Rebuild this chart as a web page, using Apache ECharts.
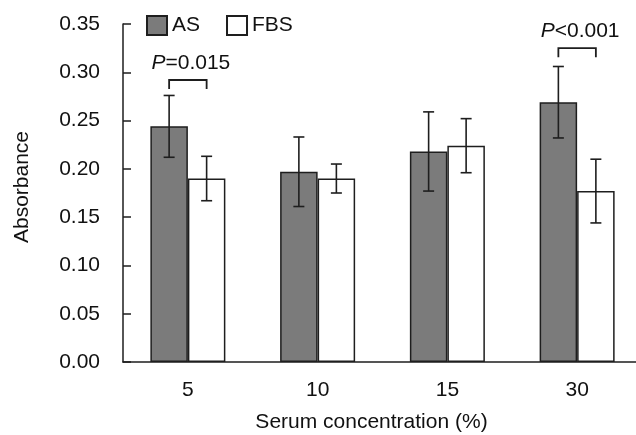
<!DOCTYPE html>
<html>
<head>
<meta charset="utf-8">
<script src="https://cdn.jsdelivr.net/npm/echarts@6/dist/echarts.min.js"></script>
<style>
html, body { margin: 0; padding: 0; background: #fff; }
#main { width: 636px; height: 435px; }
</style>
</head>
<body>
<div id="main"></div>
<script type="text/javascript">
// 数据
var categories = ['5', '10', '15', '30'];
var asMean = [0.244, 0.197, 0.218, 0.269];
var asErr = [0.032, 0.036, 0.041, 0.037];
var fbsMean = [0.190, 0.190, 0.224, 0.177];
var fbsErr = [0.023, 0.015, 0.028, 0.033];
// 显著性标注
var sigGroup = [0, 3];
var sigY = [0.292, 0.325];
var sigText = ['P=0.015', 'P<0.001'];

var FONT = 'Liberation Sans, Arial, sans-serif';
var BAR_W = 37.5;
var INK = '#1e1e1e';

function errData(mean, err) {
	return mean.map(function (m, i) { return [i, m - err[i], m + err[i]]; });
}

function errRender(offset) {
	return function (params, api) {
		var lo = api.coord([api.value(0), api.value(1)]);
		var hi = api.coord([api.value(0), api.value(2)]);
		var x = lo[0] + offset;
		var cap = 5.5;
		var st = { stroke: INK, lineWidth: 1.6 };
		return {
			type: 'group',
			children: [
				{ type: 'line', shape: { x1: x, y1: hi[1], x2: x, y2: lo[1] }, style: st },
				{ type: 'line', shape: { x1: x - cap, y1: hi[1], x2: x + cap, y2: hi[1] }, style: st },
				{ type: 'line', shape: { x1: x - cap, y1: lo[1], x2: x + cap, y2: lo[1] }, style: st }
			]
		};
	};
}

var sigData = sigGroup.map(function (g, i) { return [g, sigY[i], sigText[i]]; });

var myChart = echarts.init(document.getElementById('main'));
var option = {
	backgroundColor: '#fff',
	animation: false,
	textStyle: { fontFamily: FONT },
	legend: {
		left: 146,
		top: 15,
		padding: 0,
		itemWidth: 20,
		itemHeight: 19,
		itemGap: 26,
		icon: 'rect',
		textStyle: { fontSize: 21, color: '#111', fontFamily: FONT },
		data: ['AS', 'FBS']
	},
	grid: { left: 123, right: -6, top: 24, bottom: 73, containLabel: false, outerBoundsMode: 'none' },
	xAxis: {
		type: 'category',
		data: categories,
		axisLine: { lineStyle: { color: INK, width: 1.5 } },
		axisTick: { inside: true, length: 10, lineStyle: { color: INK, width: 1.5 } },
		axisLabel: { fontSize: 21, color: '#111', margin: 18, fontFamily: FONT },
		name: 'Serum concentration (%)',
		nameLocation: 'middle',
		nameGap: 50,
		nameTextStyle: { fontSize: 21, color: '#111', fontFamily: FONT, padding: [0, 22, 0, 0] }
	},
	yAxis: {
		type: 'value',
		min: 0,
		max: 0.35,
		interval: 0.05,
		splitLine: { show: false },
		axisLine: { show: true, lineStyle: { color: INK, width: 1.5 } },
		axisTick: { show: true, inside: true, length: 8, lineStyle: { color: INK, width: 1.5 } },
		axisLabel: {
			fontSize: 21, color: '#111', margin: 23, fontFamily: FONT,
			formatter: function (v) { return v.toFixed(2); }
		},
		name: 'Absorbance',
		nameLocation: 'middle',
		nameGap: 90,
		nameTextStyle: { fontSize: 21, color: '#111', fontFamily: FONT, padding: [0, 0, 0, 12] }
	},
	series: [
		{
			name: 'AS',
			type: 'bar',
			data: asMean,
			barWidth: BAR_W,
			barGap: '0%',
			itemStyle: { color: '#7b7b7b', borderColor: INK, borderWidth: 1.5 }
		},
		{
			name: 'FBS',
			type: 'bar',
			data: fbsMean,
			barWidth: BAR_W,
			itemStyle: { color: '#ffffff', borderColor: INK, borderWidth: 1.5 }
		},
		{
			type: 'custom',
			data: errData(asMean, asErr),
			renderItem: errRender(-BAR_W / 2),
			z: 5
		},
		{
			type: 'custom',
			data: errData(fbsMean, fbsErr),
			renderItem: errRender(BAR_W / 2),
			z: 5
		},
		{
			type: 'custom',
			data: sigData,
			z: 6,
			renderItem: function (params, api) {
				var p = api.coord([api.value(0), api.value(1)]);
				var x1 = p[0] - BAR_W / 2, x2 = p[0] + BAR_W / 2, y = p[1];
				var txt = sigData[params.dataIndex][2];
				return {
					type: 'group',
					children: [
						{
							type: 'polyline',
							shape: { points: [[x1, y + 9], [x1, y], [x2, y], [x2, y + 9]] },
							style: { stroke: INK, lineWidth: 1.8, fill: null }
						},
						{
							type: 'text',
							x: p[0] + 3,
							y: y - 17,
							style: {
								text: '{i|' + txt.charAt(0) + '}' + txt.slice(1),
								align: 'center',
								verticalAlign: 'middle',
								fontSize: 21,
								fontFamily: FONT,
								fill: '#111',
								rich: { i: { fontStyle: 'italic', fontSize: 21, fontFamily: FONT, fill: '#111' } }
							}
						}
					]
				};
			}
		}
	]
};
myChart.setOption(option);
</script>
</body>
</html>
